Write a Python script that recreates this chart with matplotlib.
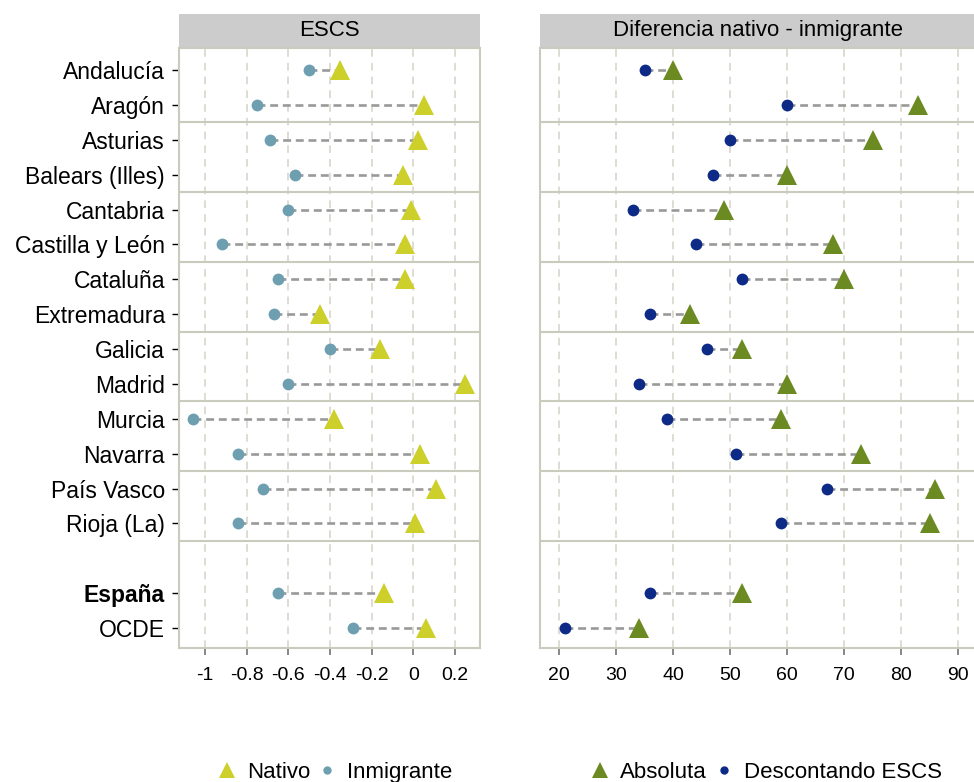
import matplotlib
matplotlib.use("Agg")
import matplotlib.pyplot as plt
from matplotlib.lines import Line2D
from matplotlib.patches import Rectangle

# filas: 14 comunidades, hueco, España, OCDE
regiones = ["Andalucía", "Aragón", "Asturias", "Balears (Illes)", "Cantabria",
            "Castilla y León", "Cataluña", "Extremadura", "Galicia", "Madrid",
            "Murcia", "Navarra", "País Vasco", "Rioja (La)", "España", "OCDE"]
filas = list(range(14)) + [15, 16]

escs_nativo = [-0.35, 0.05, 0.02, -0.05, -0.01, -0.04, -0.04, -0.45, -0.16, 0.25,
               -0.38, 0.03, 0.11, 0.01, -0.14, 0.06]
escs_inmigrante = [-0.50, -0.75, -0.69, -0.57, -0.60, -0.92, -0.65, -0.67, -0.40, -0.60,
                   -1.06, -0.84, -0.72, -0.84, -0.65, -0.29]

dif_absoluta = [40, 83, 75, 60, 49, 68, 70, 43, 52, 60, 59, 73, 86, 85, 52, 34]
dif_descontando = [35, 60, 50, 47, 33, 44, 52, 36, 46, 34, 39, 51, 67, 59, 36, 21]

ticks_escs = [-1, -0.8, -0.6, -0.4, -0.2, 0, 0.2]
ticks_escs_txt = ["-1", "-0.8", "-0.6", "-0.4", "-0.2", "0", "0.2"]
ticks_dif = [20, 30, 40, 50, 60, 70, 80, 90]

separadores = [1.5, 3.5, 5.5, 7.5, 9.5, 11.5, 13.5]

c_nativo = "#cdd02b"
c_inmig = "#6e9fb0"
c_abs = "#6b8a21"
c_desc = "#0e2a87"
c_marco = "#cbcbbd"
c_rejilla = "#d3d3c6"

plt.rcParams['font.family'] = ['Liberation Sans', 'DejaVu Sans']

fig = plt.figure(figsize=(9.74, 7.82), dpi=100)
ax1 = fig.add_axes([179/974, 134/782, 301/974, 600/782])
ax2 = fig.add_axes([540/974, 134/782, 436/974, 600/782])


def panel(ax, titulo, v_tri, v_cir, c_tri, c_cir, ticks, ticklabels, xlim):
	ax.hlines(filas, v_cir, v_tri, colors="#999999", linestyles=(0, (3, 1.8)), lw=1.9, zorder=2)
	ax.plot(v_cir, filas, "o", color=c_cir, ms=8.5, mew=0, ls="none", zorder=3)
	ax.plot(v_tri, filas, "^", color=c_tri, ms=15, mew=0, ls="none", zorder=4)
	for s in separadores:
		ax.axhline(s, color=c_marco, lw=1.5, zorder=1)
	ax.set_xticks(ticks)
	ax.set_xticklabels(ticklabels)
	ax.set_xlim(*xlim)
	ax.set_ylim(16.57, -0.63)
	ax.grid(axis="x", color=c_rejilla, ls=(0, (5, 4)), lw=1.1, zorder=0)
	ax.set_axisbelow(True)
	for sp in ax.spines.values():
		sp.set_color(c_marco)
		sp.set_linewidth(1.5)
	ax.tick_params(axis="x", colors="#666666", labelcolor="black", length=5, width=1.1,
				   labelsize=14, pad=9)
	# cabecera gris
	ax.add_patch(Rectangle((0, 1.002), 1, 0.055, transform=ax.transAxes,
						   facecolor="#cccccc", edgecolor="none", clip_on=False))
	ax.text(0.5, 1.029, titulo, transform=ax.transAxes, ha="center", va="center", fontsize=16)


panel(ax1, "ESCS", escs_nativo, escs_inmigrante, c_nativo, c_inmig,
	  ticks_escs, ticks_escs_txt, (-1.125, 0.32))
panel(ax2, "Diferencia nativo - inmigrante", dif_absoluta, dif_descontando, c_abs, c_desc,
	  ticks_dif, [str(t) for t in ticks_dif], (16.67, 93.1))

ax1.set_yticks(filas)
ax1.set_yticklabels(regiones)
ax1.tick_params(axis="y", colors="black", length=5, width=1, labelsize=16.5, pad=5)
for lab in ax1.get_yticklabels():
	if lab.get_text() == "España":
		lab.set_fontweight("bold")
ax2.tick_params(axis="y", left=False, labelleft=False)

h1 = [Line2D([], [], marker="^", color=c_nativo, ms=11, mew=0, ls="none"),
	  Line2D([], [], marker="o", color=c_inmig, ms=6, mew=0, ls="none")]
h2 = [Line2D([], [], marker="^", color=c_abs, ms=11, mew=0, ls="none"),
	  Line2D([], [], marker="o", color=c_desc, ms=6, mew=0, ls="none")]
kw = dict(loc="center", ncol=2, frameon=False, fontsize=16, handlelength=1.0,
		  handletextpad=0.4, columnspacing=0.25, borderpad=0)
fig.legend(h1, ["Nativo", "Inmigrante"], bbox_to_anchor=(0.343, 0.012), **kw)
fig.legend(h2, ["Absoluta", "Descontando ESCS"], bbox_to_anchor=(0.786, 0.012), **kw)

fig.savefig("out.png", dpi=100)
plt.close(fig)
